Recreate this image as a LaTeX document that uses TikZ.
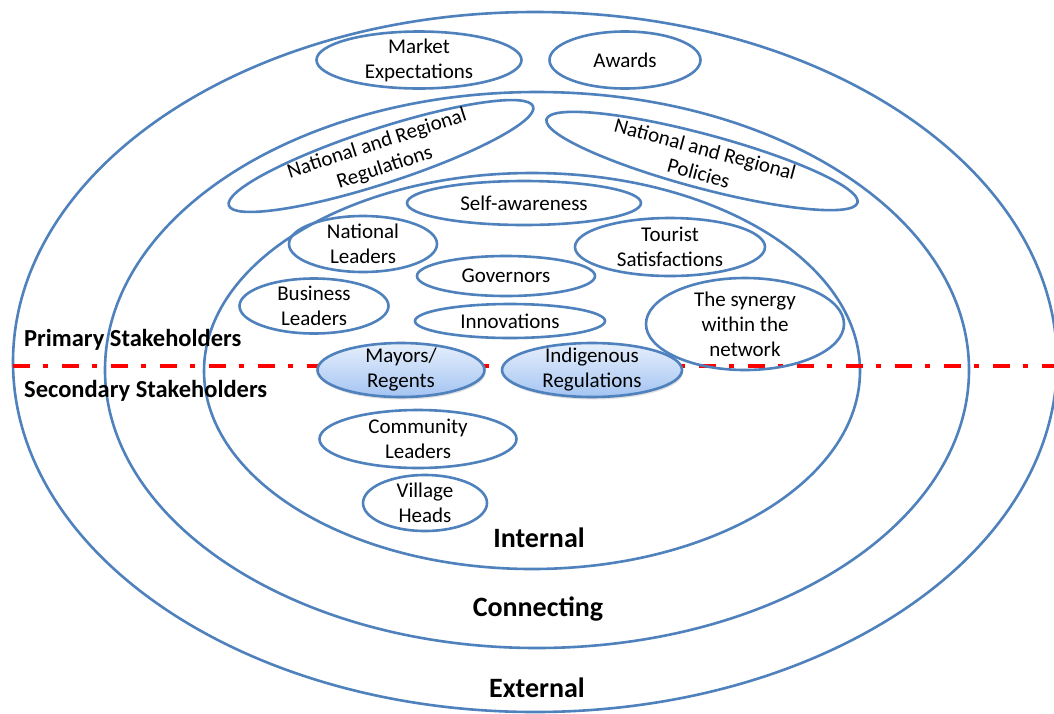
\documentclass[tikz,border=0pt]{standalone}
\usepackage{fontspec}
\setmainfont{Carlito}
\usetikzlibrary{shapes.geometric,shadows}

\definecolor{ringblue}{HTML}{4F81BD}
\definecolor{filltop}{HTML}{E6EFFC}
\definecolor{fillbottom}{HTML}{A4C4F2}
\definecolor{divider}{HTML}{FF0000}

\newcommand{\ovaltext}{\fontsize{21}{25}\selectfont}
\newcommand{\sidetext}{\fontsize{24.5}{29}\selectfont\bfseries}
\newcommand{\ringtext}{\fontsize{28}{33}\selectfont\bfseries}

\begin{document}
\begin{tikzpicture}[x=1pt,y=-1pt,
  ring/.style={draw=ringblue, line width=2.6pt},
  oval/.style 2 args={ellipse, draw=ringblue, line width=2.6pt,
    minimum width=#1, minimum height=#2, inner xsep=0pt, inner ysep=-12pt,
    outer sep=0pt, align=center, font=\ovaltext},
  shaded oval/.style={top color=filltop, bottom color=fillbottom,
    drop shadow={opacity=0.25, shadow xshift=1pt, shadow yshift=-2.5pt}},
  sidelabel/.style={anchor=west, inner sep=0pt, font=\sidetext},
  ringlabel/.style={inner sep=0pt, font=\ringtext},
  dividerline/.style={draw=divider, line width=4.5pt,
    dash pattern=on 17pt off 13pt on 5pt off 14pt}]

\useasboundingbox (0,0) rectangle (1054,713);
\fill[white] (0,0) rectangle (1054,713);
\clip (0,0) rectangle (1054,713);

% the three stakeholder rings
\coordinate (outerc) at (535,362);
\coordinate (middlec) at (537,370);
\coordinate (innerc) at (532,371);
\draw[ring] (outerc) ellipse [x radius=522pt, y radius=350pt];
\draw[ring] (middlec) ellipse [x radius=432pt, y radius=278pt];
\draw[ring] (innerc) ellipse [x radius=328pt, y radius=198pt];

% primary / secondary divider
\coordinate (divL) at (13,366);
\coordinate (divR) at (1054,366);
\draw[dividerline] (divL) -- (divR);

% external ring
\node[oval={205pt}{57pt}] (market) at (419,60) {Market\\Expectations};
\node[oval={151pt}{57pt}] (awards) at (625,60) {Awards};

% connecting ring
\node[oval={320pt}{55pt}, rotate=18] (natreg) at (381,156) {National and Regional\\Regulations};
\node[oval={322pt}{54pt}, rotate=-15] (natpol) at (702,161) {National and Regional\\Policies};

% internal ring
\node[oval={234pt}{44pt}] (selfaware) at (524,203) {Self-awareness};
\node[oval={148pt}{56pt}] (natlead) at (363,244) {National\\Leaders};
\node[oval={190pt}{58pt}] (tourist) at (670,247) {Tourist\\Satisfactions};
\node[oval={178pt}{40pt}] (governors) at (506,276) {Governors};
\node[oval={149pt}{55pt}] (business) at (314,306) {Business\\Leaders};
\node[oval={190pt}{34pt}] (innov) at (510,321) {Innovations};
\node[oval={198pt}{92pt}] (synergy) at (745,324) {The synergy\\within the\\network};
\node[oval={167pt}{54pt}, shaded oval] (mayors) at (401,370) {Mayors/\\Regents};
\node[oval={180pt}{54pt}, shaded oval] (indig) at (592,370) {Indigenous\\Regulations};
\node[oval={197pt}{58pt}] (community) at (418,439) {Community\\Leaders};
\node[oval={124pt}{56pt}] (village) at (425,503) {Village\\Heads};

% side and ring labels
\node[sidelabel] (primary) at (24,340) {Primary Stakeholders};
\node[sidelabel] (secondary) at (24,391) {Secondary Stakeholders};
\node[ringlabel] (internal) at (539,538) {Internal};
\node[ringlabel] (connecting) at (538,609) {Connecting};
\node[ringlabel] (external) at (537,688) {External};

\end{tikzpicture}
\end{document}
